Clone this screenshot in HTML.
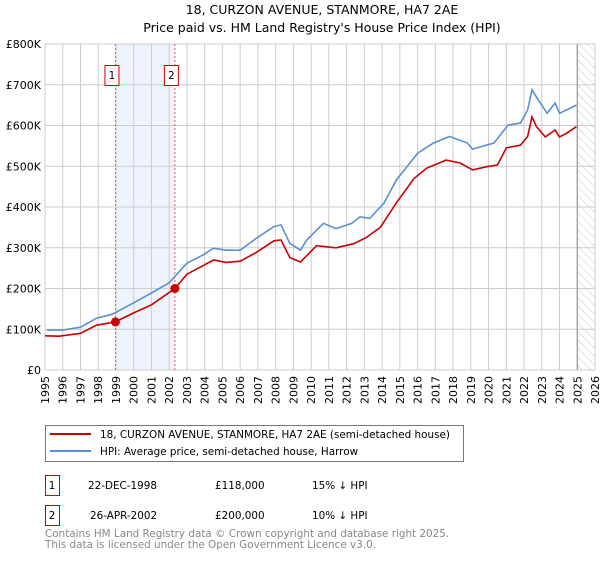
<!DOCTYPE html>
<html><head><meta charset="utf-8"><style>
body{margin:0;background:#fff;font-family:"DejaVu Sans","Liberation Sans",sans-serif;}
svg text{font-family:"DejaVu Sans","Liberation Sans",sans-serif;}
</style></head><body>
<svg id="c" width="600" height="560" viewBox="0 0 600 560" xmlns="http://www.w3.org/2000/svg">
<defs><pattern id="hatch" width="6" height="6" patternUnits="userSpaceOnUse" patternTransform="rotate(-45)"><line x1="0" y1="0" x2="0" y2="6" stroke="#bbb" stroke-width="0.8"/></pattern></defs>
<text x="322" y="14" text-anchor="middle" font-size="12.5" fill="#000">18, CURZON AVENUE, STANMORE, HA7 2AE</text>
<text x="322" y="32" text-anchor="middle" font-size="12.5" fill="#000">Price paid vs. HM Land Registry's House Price Index (HPI)</text>
<g id="grid"></g><g id="marks"></g>
<rect x="45.5" y="425.5" width="418" height="36" fill="#fff" stroke="#777"/>
<line x1="50" y1="434" x2="91" y2="434" stroke="#cc0000" stroke-width="2"/>
<text x="100" y="438" font-size="10.4">18, CURZON AVENUE, STANMORE, HA7 2AE (semi-detached house)</text>
<line x1="50" y1="451" x2="91" y2="451" stroke="#5b8fd4" stroke-width="2"/>
<text x="100" y="455" font-size="10.4">HPI: Average price, semi-detached house, Harrow</text>
<g>
<rect x="45.5" y="475.5" width="14" height="20" fill="#fff" stroke="#cc0000"/><text x="52" y="489" text-anchor="middle" font-size="10.4">1</text>
<text x="88" y="489" font-size="10.4">22-DEC-1998</text><text x="215" y="489" font-size="10.4">£118,000</text><text x="312" y="489" font-size="10.4">15% ↓ HPI</text></g>
<g>
<rect x="45.5" y="505.5" width="14" height="20" fill="#fff" stroke="#cc0000"/><text x="52" y="519" text-anchor="middle" font-size="10.4">2</text>
<text x="90" y="519" font-size="10.4">26-APR-2002</text><text x="215" y="519" font-size="10.4">£200,000</text><text x="312" y="519" font-size="10.4">10% ↓ HPI</text></g>
<text x="45" y="537" font-size="10.4" fill="#888">Contains HM Land Registry data © Crown copyright and database right 2025.</text>
<text x="45" y="548" font-size="10.4" fill="#888">This data is licensed under the Open Government Licence v3.0.</text>
</svg>
<script>
const yTicks=[0,100,200,300,400,500,600,700,800];
const yTickLabels=["£0","£100K","£200K","£300K","£400K","£500K","£600K","£700K","£800K"];
const xYears=[1995,1996,1997,1998,1999,2000,2001,2002,2003,2004,2005,2006,2007,2008,2009,2010,2011,2012,2013,2014,2015,2016,2017,2018,2019,2020,2021,2022,2023,2024,2025,2026];
const redT=[1995,1995.8,1997,1997.9,1998.97,2000,2001,2002.32,2003,2003.9,2004.5,2005.2,2006,2006.9,2007.9,2008.3,2008.8,2009.4,2010.3,2011.4,2012.4,2013.1,2013.9,2014.8,2015.8,2016.5,2017.6,2018.4,2019.1,2019.9,2020.5,2021.0,2021.8,2022.2,2022.45,2022.7,2023.2,2023.75,2024.0,2024.4,2024.95];
const redV=[84,83,90,110,118,140,160,200,235,256,270,264,267,288,317,319,276,265,305,300,310,325,350,410,470,495,515,508,491,499,503,545,552,573,621,597,572,589,572,581,597];
const blueT=[1995.1,1996,1997,1997.9,1998.8,2000,2001,2002,2003,2003.9,2004.5,2005.2,2006,2006.9,2007.9,2008.3,2008.8,2009.4,2009.75,2010.7,2011.4,2012.3,2012.75,2013.3,2014.1,2014.8,2016.0,2016.9,2017.8,2018.8,2019.1,2020.3,2021.1,2021.8,2022.2,2022.45,2022.8,2023.3,2023.75,2024.0,2024.95];
const blueV=[98,98,105,127,137,165,189,214,262,282,299,294,294,323,352,356,311,294,319,360,347,360,376,372,409,466,532,557,573,557,542,557,601,606,638,687,663,630,655,630,650];
const saleT=[1998.97,2002.32];
const saleV=[118,200];
const saleLabels=["1","2"];
const NS="http://www.w3.org/2000/svg";
const X0=45,X1=595,Y0=370,Y1=44;
const xs=t=>X0+(t-1995)/31*(X1-X0);
const ys=v=>Y0-v/800*(Y0-Y1);
const grid=document.getElementById('grid'),marks=document.getElementById('marks');
function mk(tag,attrs,parent){const e=document.createElementNS(NS,tag);for(const k in attrs)e.setAttribute(k,attrs[k]);parent.appendChild(e);return e;}
let r=mk('rect',{x:xs(saleT[0]),y:Y1,width:xs(saleT[1])-xs(saleT[0]),height:Y0-Y1,fill:'#eef3fc'},grid);


let h=mk('rect',{x:xs(2025.0),y:Y1,width:X1-xs(2025.0),height:Y0-Y1,fill:'url(#hatch)'},grid);


yTicks.forEach((v,i)=>{
 let l=mk('line',{x1:X0,x2:X1,y1:ys(v),y2:ys(v),stroke:'#ccc'},grid);
 
 
 let t=mk('text',{x:X0-4,y:ys(v)+4,'text-anchor':'end','font-size':'11'},grid);t.textContent=yTickLabels[i];
 
 
});
xYears.forEach(y=>{
 let l=mk('line',{x1:xs(y),x2:xs(y),y1:Y1,y2:Y0,stroke:'#ccc'},grid);
 
 
 let t=mk('text',{x:0,y:0,'text-anchor':'end','font-size':'11',transform:`translate(${xs(y)+4},${Y0+6}) rotate(-90)`},grid);t.textContent=y;
 
 
});
let vl=mk('line',{x1:xs(2025.0),x2:xs(2025.0),y1:Y1,y2:Y0,stroke:'#888','stroke-width':1},grid);


saleT.forEach((t,i)=>{
 let l=mk('line',{x1:xs(t),x2:xs(t),y1:Y1,y2:Y0,stroke:'#e06060','stroke-dasharray':'2,2'},marks);
 
 
 let b=mk('rect',{x:xs(t)-10.5,y:65.5,width:14,height:20,fill:'#fff',stroke:'#cc0000'},marks);
 
 
 let tx=mk('text',{x:xs(t)-3.5,y:79,'text-anchor':'middle','font-size':'10.4'},marks);tx.textContent=saleLabels[i];
 
 
});
function line(T,V){return T.map((t,i)=>(i?'L':'M')+xs(t).toFixed(1)+','+ys(V[i]).toFixed(1)).join('');}
let pb=mk('path',{d:line(blueT,blueV),fill:'none',stroke:'#5b8fd4','stroke-width':1.6},marks);


let pr=mk('path',{d:line(redT,redV),fill:'none',stroke:'#cc0000','stroke-width':1.6},marks);


saleT.forEach((t,i)=>{
 let c=mk('circle',{cx:xs(t),cy:ys(saleV[i]),r:4.5,fill:'#cc0000'},marks);
 
 
});
</script>
</body></html>
